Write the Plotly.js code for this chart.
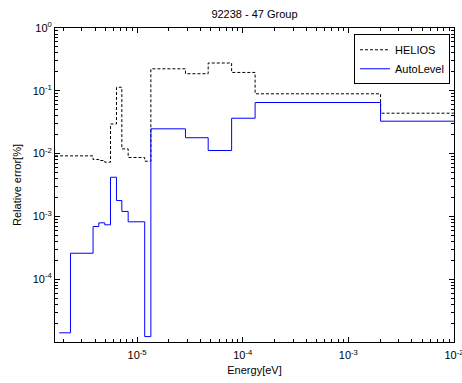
<!DOCTYPE html>
<html>
<head>
<meta charset="utf-8">
<script src="https://cdn.plot.ly/plotly-3.0.1.min.js"></script>
<style>
  html, body { margin: 0; padding: 0; background: #fff; }
  #chart { width: 462px; height: 383px; }
</style>
</head>
<body>
<div id="chart"></div>
<script>
// Group energy edges [eV]
const energyEdges = [1.67e-6, 1.83e-6, 2.34e-6, 3.83e-6, 4.34e-6, 4.94e-6, 5.6e-6, 6.38e-6,
  7.17e-6, 8.23e-6, 1.18e-5, 1.35e-5, 2.87e-5, 4.71e-5, 7.85e-5, 1.31e-4, 2.02e-3, 1e-2];

// Relative error per group (one value per interval between edges)
const heliosErr = [9.2e-3, 9.2e-3, 9.2e-3, 8.05e-3, 7.76e-3, 7.3e-3, 2.96e-2, 0.114,
  1.19e-2, 8.67e-3, 7.57e-3, 0.224, 0.187, 0.277, 0.196, 0.0896, 0.044];
const autoLevelErr = [null, 1.40e-5, 2.59e-4, 6.9e-4, 7.9e-4, 7.35e-4, 4.2e-3, 1.79e-3,
  1.2e-3, 8.2e-4, 1.22e-5, 2.48e-2, 1.79e-2, 1.12e-2, 3.66e-2, 6.51e-2, 3.28e-2];

const seriesNames = ["HELIOS", "AutoLevel"];
const titleText = "92238 - 47 Group";
const xLabel = "Energy[eV]";
const yLabel = "Relative error[%]";

const xTickVals = [1e-5, 1e-4, 1e-3, 1e-2];
const xTickText = ["10<sup>-5</sup>", "10<sup>-4</sup>", "10<sup>-3</sup>", "10<sup>-2</sup>"];
const yTickVals = [1e-4, 1e-3, 1e-2, 1e-1, 1e0];
const yTickText = ["10<sup>-4</sup>", "10<sup>-3</sup>", "10<sup>-2</sup>", "10<sup>-1</sup>", "10<sup>0</sup>"];

// stairs: repeat the last value at the final edge
function stairs(vals) { return vals.concat([vals[vals.length - 1]]); }

const FONT = "Liberation Sans, Arial, sans-serif";

const traces = [
  {
    x: energyEdges, y: stairs(heliosErr), name: seriesNames[0],
    type: "scatter", mode: "lines",
    line: { shape: "hv", color: "#000000", width: 1, dash: "3px,2px" }
  },
  {
    x: energyEdges, y: stairs(autoLevelErr), name: seriesNames[1],
    type: "scatter", mode: "lines", connectgaps: false,
    line: { shape: "hv", color: "#0000ff", width: 1 }
  }
];

const axisCommon = {
  type: "log",
  showgrid: false, zeroline: false,
  showline: true, linecolor: "#000", linewidth: 1, mirror: "allticks",
  ticks: "inside", ticklen: 5, tickcolor: "#000", tickwidth: 1,
  tickmode: "array",
  ticklabeloverflow: "allow",
  tickfont: { family: FONT, size: 11, color: "#000" },
  minor: { ticks: "inside", ticklen: 3, tickcolor: "#000", tickwidth: 1, dtick: "D1", showgrid: false }
};

const layout = {
  width: 462, height: 383,
  margin: { l: 55, r: 8, t: 28, b: 41 },
  paper_bgcolor: "#fff", plot_bgcolor: "#fff",
  font: { family: FONT, size: 11, color: "#000" },
  title: { text: titleText, font: { family: FONT, size: 11, color: "#000" },
           x: 0.5, xref: "paper", xanchor: "center", y: 0.963, yref: "container", yanchor: "middle" },
  xaxis: Object.assign({}, axisCommon, {
    range: [Math.log10(1.67e-6), -1.9995],
    tickvals: xTickVals, ticktext: xTickText,
    ticklabelstandoff: 3,
    automargin: "bottom",
    title: { text: xLabel, font: { family: FONT, size: 11, color: "#000" }, standoff: 6 }
  }),
  yaxis: Object.assign({}, axisCommon, {
    range: [-5, 0],
    tickvals: yTickVals, ticktext: yTickText,
    automargin: false,
    title: { text: yLabel, font: { family: FONT, size: 11, color: "#000" }, standoff: 8 }
  }),
  showlegend: true,
  legend: {
    x: 0.99, xanchor: "right", y: 0.98, yanchor: "top",
    bgcolor: "#fff", bordercolor: "#000", borderwidth: 1,
    font: { family: FONT, size: 11, color: "#000" },
    tracegroupgap: 0
  }
};

Plotly.newPlot("chart", traces, layout, { displayModeBar: false, staticPlot: true });
</script>
</body>
</html>
